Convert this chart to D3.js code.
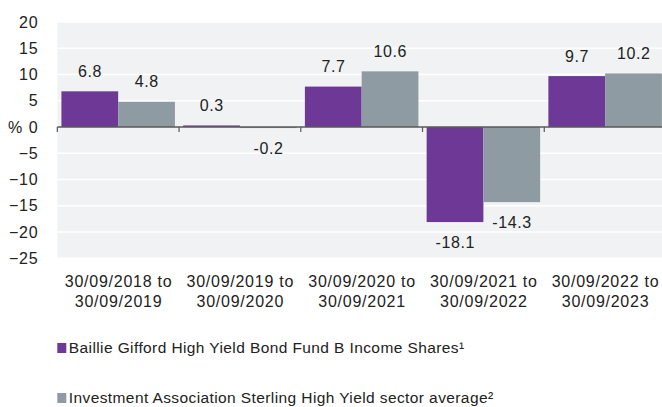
<!DOCTYPE html>
<html><head><meta charset="utf-8">
<script src="https://cdn.jsdelivr.net/npm/d3@7"></script>
<style>body{margin:0;background:#fff}svg{display:block}text{font-family:"Liberation Sans",Arial,sans-serif;fill:#222}</style>
</head><body><svg id="c" width="662" height="407"></svg>
<script>
const categories = [["30/09/2018 to","30/09/2019"],["30/09/2019 to","30/09/2020"],["30/09/2020 to","30/09/2021"],["30/09/2021 to","30/09/2022"],["30/09/2022 to","30/09/2023"]];
const fund = [6.8, 0.3, 7.7, -18.1, 9.7];
const sector = [4.8, -0.2, 10.6, -14.3, 10.2];
const seriesNames = ["Baillie Gifford High Yield Bond Fund B Income Shares¹","Investment Association Sterling High Yield sector average²"];
const colors = ["#6e3996","#8f9ba3"];
const yTicks = [20,15,10,5,0,-5,-10,-15,-20,-25];

const svg = d3.select("#c");
const L = 57.3, R = 666, T = 22, B = 258.3;
const x = d3.scaleBand().domain(d3.range(categories.length)).range([L,R]).paddingInner(0).paddingOuter(0);
const y = d3.scaleLinear().domain([-25,20]).range([B,T]);
const inner = d3.scaleBand().domain([0,1]).range([0,x.bandwidth()]).paddingOuter(0.0725).paddingInner(0);

svg.append("rect").attr("x",L).attr("y",T).attr("width",R-L).attr("height",B-T).attr("fill","#f1f2f4");
svg.append("g").selectAll("line").data(yTicks.filter(d=>d!==0)).join("line")
  .attr("x1",L).attr("x2",R).attr("y1",d=>y(d)).attr("y2",d=>y(d)).attr("stroke","#fff").attr("stroke-width",1.5);

const yAxis = svg.append("g").attr("transform",`translate(${L-16},0)`)
  .call(d3.axisLeft(y).tickValues(yTicks).tickSize(0).tickFormat(d3.format("d")));
yAxis.select(".domain").remove();
yAxis.selectAll("text").attr("font-size",16).attr("letter-spacing","0.7px").attr("fill","#222").attr("font-family","Liberation Sans, Arial, sans-serif");
svg.append("text").attr("x",8).attr("y",y(0)).attr("dy","0.35em").attr("font-size",16).text("%");

const series = [fund, sector];
series.forEach((vals,si)=>{
  svg.append("g").selectAll("rect").data(vals).join("rect")
    .attr("x",(d,i)=>x(i)+inner(si)).attr("width",inner.bandwidth())
    .attr("y",d=>y(Math.max(0,d))).attr("height",d=>Math.abs(y(d)-y(0)))
    .attr("fill",colors[si]);
  svg.append("g").selectAll("text").data(vals).join("text")
    .attr("x",(d,i)=>x(i)+inner(si)+inner.bandwidth()/2+0.3)
    .attr("y",d=>d>=0? y(d)-20 : y(d)+20).attr("dy","0.35em")
    .attr("text-anchor","middle").attr("font-size",16).attr("letter-spacing","0.6px").text(d=>d.toFixed(1));
});

// zero axis line with ticks
const xAxis = svg.append("g").attr("transform",`translate(0,${y(0)})`);
xAxis.append("line").attr("x1",L).attr("x2",R).attr("stroke","#595959").attr("stroke-width",1.5);
xAxis.selectAll(".tk").data(d3.range(categories.length+1)).join("line").attr("class","tk")
  .attr("x1",i=>L+i*x.bandwidth()).attr("x2",i=>L+i*x.bandwidth()).attr("y1",0).attr("y2",5)
  .attr("stroke","#595959").attr("stroke-width",1.2);

const cl = svg.append("g").selectAll("text").data(categories).join("text")
  .attr("x",(d,i)=>x(i)+x.bandwidth()/2+0.4).attr("y",281.7).attr("text-anchor","middle")
  .attr("font-size",16).attr("letter-spacing","0.75px");
cl.selectAll("tspan").data(d=>d).join("tspan")
  .attr("x",function(){return this.parentNode.getAttribute("x");})
  .attr("dy",(d,i)=>i===0?"0.35em":"20").text(d=>d);

const leg = svg.append("g").selectAll("g").data(seriesNames).join("g")
  .attr("transform",(d,i)=>`translate(57.3,${348+i*50})`);
leg.append("rect").attr("x",0).attr("y",-5).attr("width",9).attr("height",10).attr("fill",(d,i)=>colors[i]);
leg.append("text").attr("x",11.5).attr("dy","0.35em").attr("font-size",15.5).attr("letter-spacing","0.4px").text(d=>d);
</script></body></html>
